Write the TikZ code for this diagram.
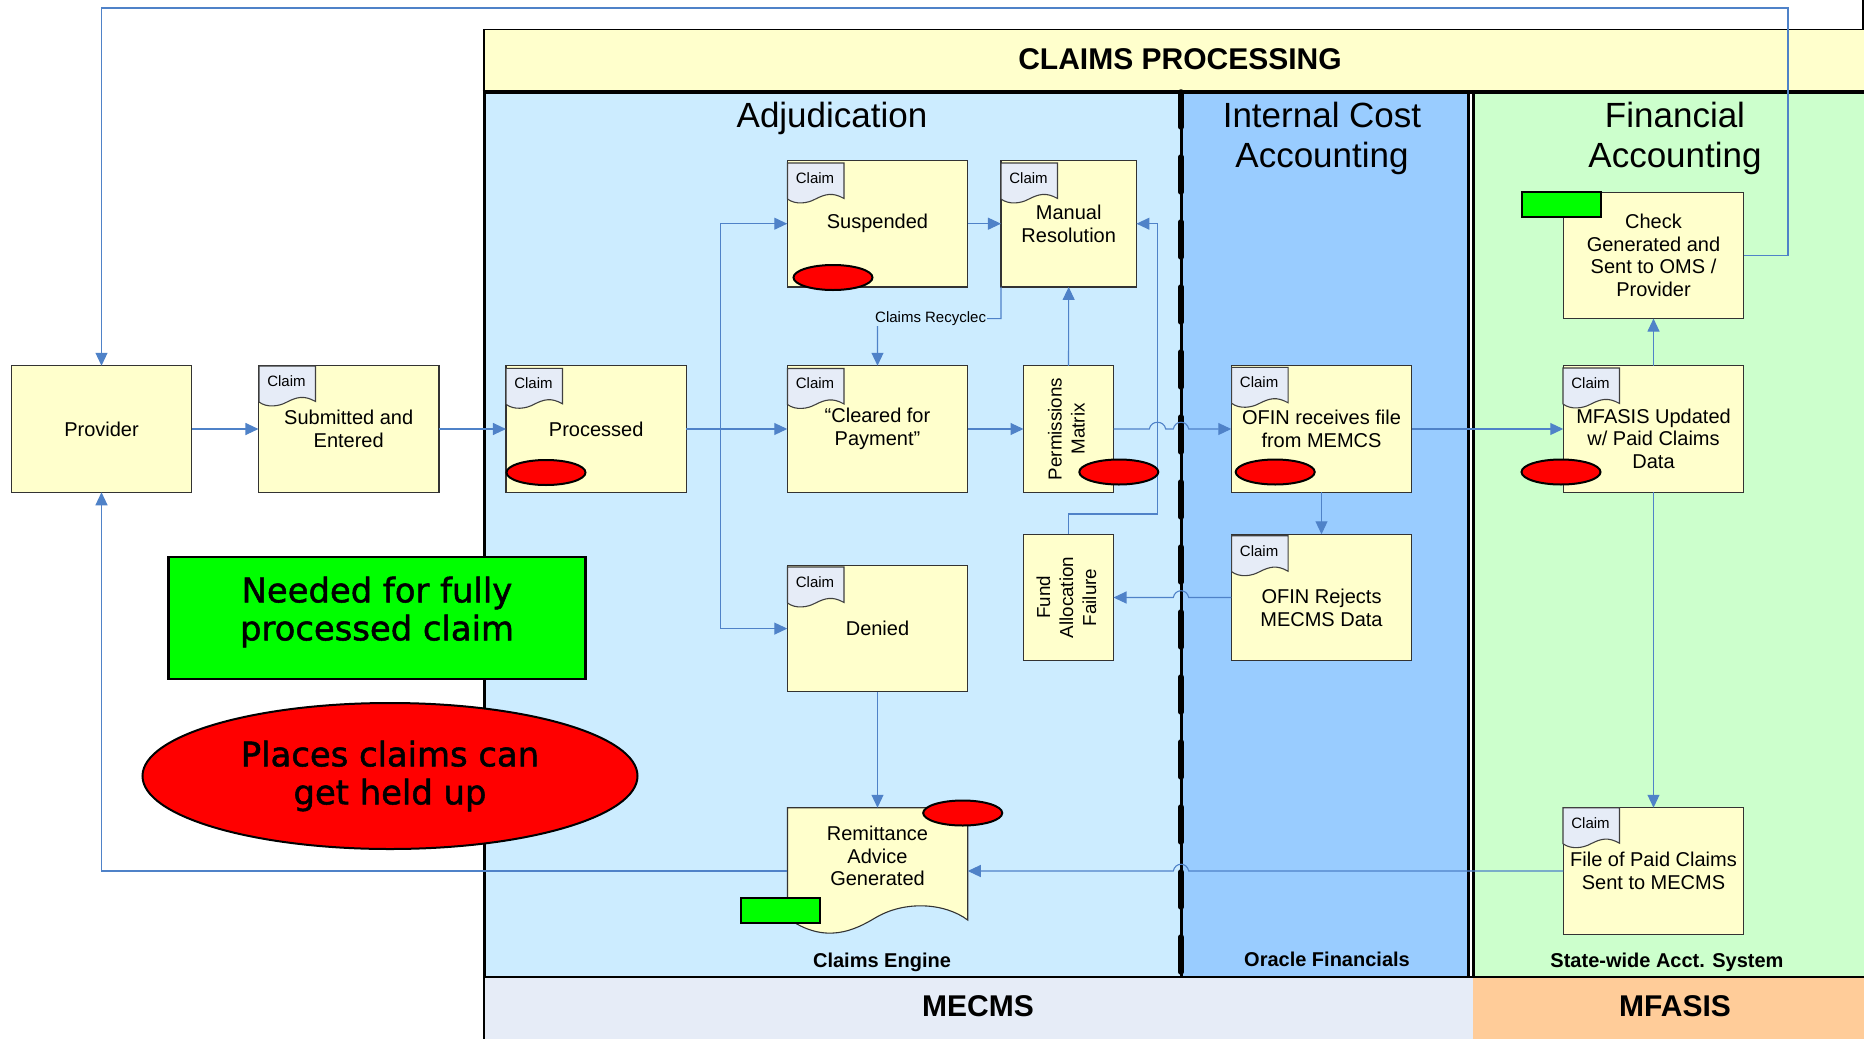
\documentclass[tikz,border=0pt]{standalone}
\usepackage{fontspec}
\setmainfont{Liberation Sans}
\newfontfamily\legendfont[FakeBold=1.5]{DejaVu Sans}
\usetikzlibrary{arrows.meta}
\definecolor{boxyellow}{HTML}{FFFFCC}
\definecolor{lightblue}{HTML}{CCECFF}
\definecolor{midblue}{HTML}{99CCFF}
\definecolor{palegreen}{HTML}{CCFFCC}
\definecolor{docblue}{HTML}{E6ECF7}
\definecolor{palemfasis}{HTML}{FFCC99}
\definecolor{conncol}{HTML}{4F82C8}
\definecolor{hotred}{HTML}{FF0000}
\definecolor{hotgreen}{HTML}{00FF00}
\tikzset{
  proc/.style={draw=black!80,line width=1.1pt,fill=boxyellow,inner sep=0pt,outer sep=0pt,
    minimum width=180.5pt,minimum height=126.5pt,align=center,font=\fontsize{20}{22.7}\selectfont},
  txt/.style={inner sep=0pt,align=center,font=\fontsize{20}{22.7}\selectfont},
  conn/.style={draw=conncol,line width=1.1pt},
  arr/.style={conn,-{Triangle[length=13pt,width=12pt]}},
  redmark/.style={draw=black,line width=2pt,fill=hotred,ellipse,inner sep=0pt,outer sep=0pt,minimum width=79pt,minimum height=25pt},
  greenmark/.style={draw=black,line width=2pt,fill=hotgreen,inner sep=0pt,outer sep=0pt,minimum width=79pt,minimum height=25pt},
  laneTitle/.style={inner sep=0pt,align=center,font=\fontsize{35}{39.5}\selectfont},
  sysTitle/.style={inner sep=0pt,font=\bfseries\fontsize{20}{22}\selectfont},
  bandTitle/.style={inner sep=0pt,font=\bfseries\fontsize{30}{34}\selectfont},
  legendText/.style={inner sep=0pt,align=center,font=\legendfont\fontsize{33.8}{38}\selectfont},
  clabel/.style={inner sep=0pt,font=\fontsize{15}{17}\selectfont},
  reclabel/.style={inner sep=0.5pt,fill=lightblue,font=\fontsize{15}{16}\selectfont},
}
\usetikzlibrary{shapes.geometric}
\newcommand{\claimtab}[3]{%
  \begin{scope}[shift={(#2,#3)}]
    \draw[fill=docblue,draw=black!75,line width=1.1pt] (0,0) -- (56.5,0) -- (56.5,35.5)
      .. controls (45,29) and (38,31) .. (28,36) .. controls (20,40.5) and (8,42) .. (0,36) -- cycle;
    \node[clabel] (#1) at (27.5,15) {Claim};
  \end{scope}}
\begin{document}
\begin{tikzpicture}[x=1pt,y=-1pt]
\useasboundingbox (0,0) rectangle (1864,1039);
\fill[white] (0,0) rectangle (1864,1039);
% bands
\fill[boxyellow] (484,29.7) rectangle (1864,92);
\fill[lightblue] (484,92) rectangle (1181,977);
\fill[midblue] (1181,92) rectangle (1468,977);
\fill[palegreen] (1473,92) rectangle (1864,977);
\fill[docblue] (484,977) rectangle (1473,1039);
\fill[palemfasis] (1473,977) rectangle (1864,1039);
\draw[line width=1.4pt] (484,1039) -- (484,29.7) -- (1863,29.7) -- (1863,0);
\draw[line width=1.4pt] (484,977) -- (1864,977);
\draw[line width=3.5pt] (482.5,92) -- (1864,92);
\draw[line width=3pt] (484,92) -- (484,977);
\draw[line width=3pt] (1468,92) -- (1468,977);
\draw[line width=3pt] (1473,92) -- (1473,977);
\draw[line width=3pt] (1181,92) -- (1181,977);
\draw[line width=5.5pt,line cap=round,dash pattern=on 35pt off 30pt] (1181,92) -- (1181,977);
% titles
\node[bandTitle] (tprocessing) at (1180,59) {CLAIMS PROCESSING};
\node[laneTitle] (tadj) at (832,118.5) {Adjudication};
\node[laneTitle] (ticost) at (1322,138.5) {Internal Cost\\Accounting};
\node[laneTitle] (tfin) at (1675,138.5) {Financial\\Accounting};
\node[sysTitle] (tengine) at (882,962) {Claims Engine};
\node[sysTitle] (toracle) at (1327,959.5) {Oracle Financials};
\node[sysTitle] (tstate) at (1667,962) {State-wide Acct. System};
\node[bandTitle] (tmecms) at (978,1006) {MECMS};
\node[bandTitle] (tmfasis) at (1675,1006) {MFASIS};
% boxes
\node[proc] (provider) at (101.5,429) {Provider};
\node[proc] (submitted) at (348.7,429) {Submitted and\\Entered};
\node[proc] (processed) at (596.2,429) {Processed};
\node[proc] (cleared) at (877.5,429) {“Cleared for\\Payment”};
\node[proc] (suspended) at (877.5,223.7) {Suspended};
\node[proc,minimum width=135.5pt] (manual) at (1068.7,223.7) {Manual\\Resolution};
\node[proc,minimum width=90pt] (perm) at (1068.5,429) {\rotatebox{90}{\fontsize{18.8}{22.5}\selectfont\begin{tabular}{@{}c@{}}Permissions\\[0.5pt]Matrix\end{tabular}}};
\node[proc,minimum width=90pt] (fund) at (1068.5,597.5) {\rotatebox{90}{\fontsize{18.8}{22.5}\selectfont\begin{tabular}{@{}c@{}}Fund\\[0.5pt]Allocation\\[0.5pt]Failure\end{tabular}}};
\node[proc] (denied) at (877.5,628.6) {Denied};
\draw[fill=boxyellow,draw=black!80,line width=1.1pt] (787.5,807.7) -- (967.7,807.7) -- (967.7,920)
  .. controls (945,903) and (905,900) .. (875,918) .. controls (855,930) and (825,945) .. (787.5,918) -- cycle;
\node[inner sep=0pt,outer sep=0pt,minimum width=180.5pt,minimum height=126.5pt] (remit) at (877.5,871) {};
\node[txt] (remittxt) at (877.5,856) {Remittance\\Advice\\Generated};
\node[proc] (ofinr) at (1321.5,429) {OFIN receives file\\from MEMCS};
\node[proc] (ofinj) at (1321.5,597.5) {};
\node[txt] (ofinjtxt) at (1321.5,607.5) {OFIN Rejects\\MECMS Data};
\node[proc] (check) at (1653.5,255.3) {Check\\Generated and\\Sent to OMS /\\Provider};
\node[proc] (mfasis) at (1653.5,429) {};
\node[txt] (mfasistxt) at (1653.5,438.7) {MFASIS Updated\\w/ Paid Claims\\Data};
\node[proc] (filepaid) at (1653.5,871) {File of Paid Claims\\Sent to MECMS};
% claim tabs
\claimtab{csub}{259}{366}
\claimtab{cproc}{506}{368.3}
\claimtab{csusp}{787.5}{163}
\claimtab{cman}{1001}{163}
\claimtab{cclear}{787.5}{368.5}
\claimtab{cden}{787.5}{567}
\claimtab{cofr}{1231.6}{367.3}
\claimtab{cofj}{1231.6}{535.7}
\claimtab{cmf}{1563}{368}
\claimtab{cfile}{1563}{807.7}
% connector helpers
\coordinate (branch) at (720.5,429);
\coordinate (topR) at (1788,8);
\coordinate (recR) at (1001,318.6);
\coordinate (recL) at (877.5,318.6);
\coordinate (f1) at (1068.5,514);
\coordinate (f2) at (1157.4,514);
\coordinate (f3) at (1157.4,223.7);
\coordinate (lowL) at (101.5,871);
% connectors
\draw[arr] (provider) -- (submitted);
\draw[arr] (submitted) -- (processed);
\draw[arr] (processed) -- (cleared);
\draw[arr] (cleared) -- (perm);
\draw[arr] (branch) |- (suspended.west);
\draw[arr] (branch) |- (denied.west);
\draw[arr] (suspended.east |- manual.west) -- (manual.west);
\draw[arr] (manual.south west) -- (recR) -- node[reclabel,pos=.57] (reclab) {Claims Recyclec} (recL) -- (cleared.north);
\draw[arr] (perm.north) -- (manual.south);
\draw[arr] (fund.north) -- (f1) -- (f2) -- (f3) -- (manual.east |- f3);
\draw[arr] (perm.east) -- (1149.3,429) .. controls (1151,420) and (1164,420) .. (1165.7,429) -- (1173.3,429) .. controls (1175,420) and (1187,420) .. (1188.7,429) -- (ofinr.west);
\draw[arr] (ofinr) -- (mfasis);
\draw[arr] (ofinr.south) -- (ofinj.north);
\draw[arr] (ofinj.west) -- (1188.7,597.5) .. controls (1187,588.5) and (1175,588.5) .. (1173.3,597.5) -- (fund.east);
\draw[arr] (mfasis.north) -- (check.south);
\draw[arr] (check.east) -| (topR) -| (provider.north);
\draw[arr] (mfasis.south) -- (filepaid.north);
\draw[arr] (filepaid.west |- remit.east) -- (1188.7,871) .. controls (1187,862) and (1175,862) .. (1173.3,871) -- (remit.east);
\draw[arr] (denied.south) -- (remit.north);
\draw[arr] (remit.west) -- (lowL) -- (provider.south);
% marks
\node[redmark] (m1) at (833,277.5) {};
\node[redmark] (m2) at (546,472.5) {};
\node[redmark] (m3) at (1118.8,472) {};
\node[redmark] (m4) at (1275.2,472) {};
\node[redmark] (m5) at (1561,472) {};
\node[redmark] (m6) at (962.7,813) {};
\node[greenmark] (g1) at (1561,204.3) {};
\node[greenmark] (g2) at (780.5,910.7) {};
% legend
\node[draw=black,line width=2.2pt,fill=hotgreen,inner sep=0pt,outer sep=0pt,minimum width=417pt,minimum height=122pt] (lgreen) at (377,618.3) {};
\node[legendText] (lgreentxt) at (377,612) {Needed for fully\\processed claim};
\node[draw=black,line width=2pt,fill=hotred,ellipse,inner sep=0pt,outer sep=0pt,minimum width=495pt,minimum height=146pt] (lred) at (390,776) {};
\node[legendText] (lredtxt) at (390,776) {Places claims can\\get held up};
\end{tikzpicture}
\end{document}
